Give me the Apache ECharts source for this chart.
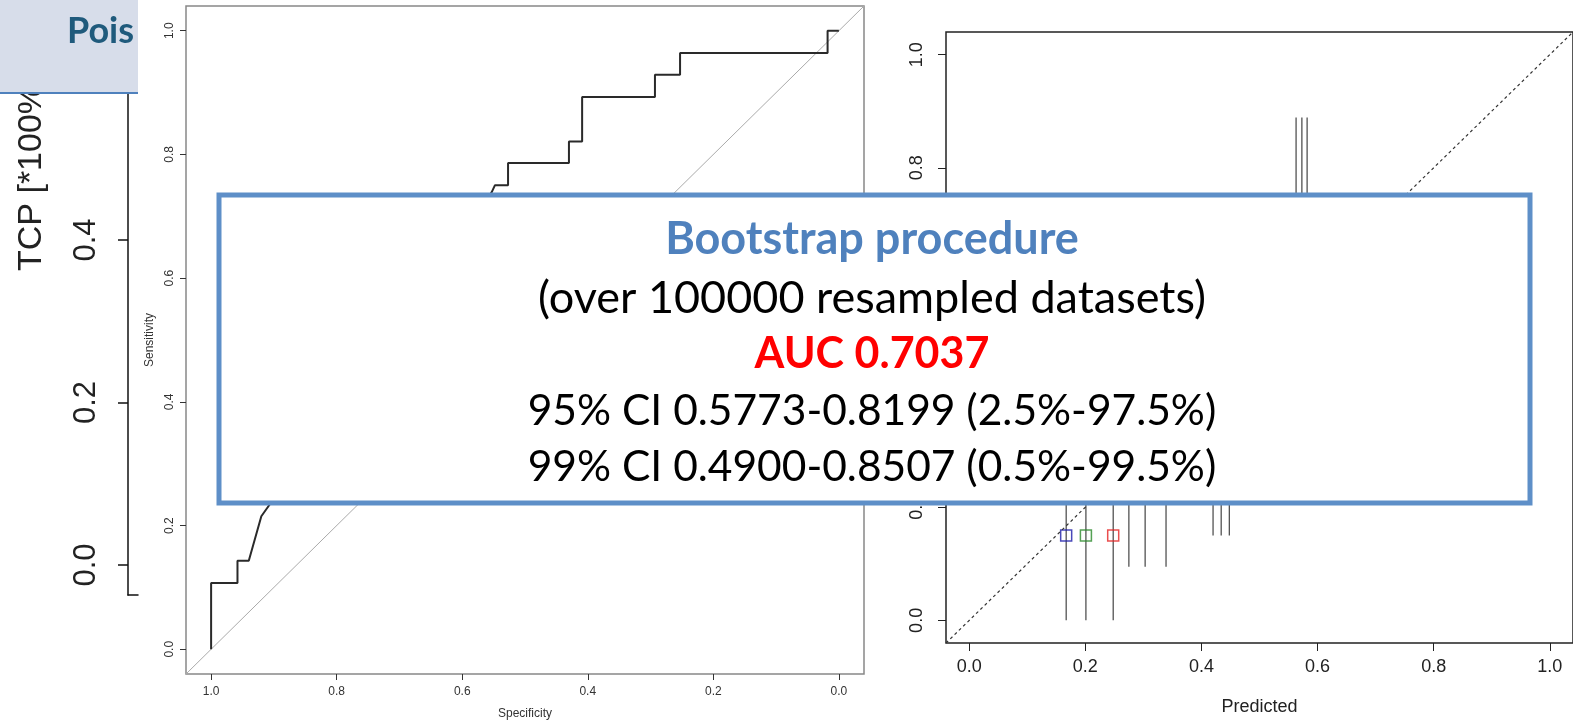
<!DOCTYPE html>
<html>
<head>
<meta charset="utf-8">
<script src="https://cdn.jsdelivr.net/npm/echarts@6/dist/echarts.min.js"></script>
<style>
  html, body { margin: 0; padding: 0; background: #fff; }
  #chart { width: 1573px; height: 725px; }
</style>
</head>
<body>
<div id="chart"></div>
<script>
// ROC curve (specificity runs 1 -> 0)
var roc_spec = [1.0, 1.0, 0.958, 0.958, 0.94, 0.92, 0.553, 0.548, 0.527, 0.527, 0.43, 0.43, 0.409, 0.409, 0.293, 0.293, 0.253, 0.253, 0.018, 0.018, 0.0];
var roc_sens = [0.0, 0.107, 0.107, 0.143, 0.143, 0.215, 0.739, 0.75, 0.75, 0.786, 0.786, 0.821, 0.821, 0.893, 0.893, 0.929, 0.929, 0.964, 0.964, 1.0, 1.0];
var roc_diag_spec = [1.04, -0.04];
var roc_diag_sens = [-0.04, 1.04];
var unit_ticks = [0, 0.2, 0.4, 0.6, 0.8, 1.0];

// calibration plot
var cal_diag = [-0.04, 1.04];
var grp_pred = [0.167, 0.201, 0.248];
var grp_obs = [0.15, 0.15, 0.15];
var grp_colors = ['#1c1ca8', '#2a8a2a', '#e52222'];
var bar_x = [0.167, 0.201, 0.248, 0.275, 0.303, 0.339, 0.42, 0.434, 0.448, 0.563, 0.573, 0.582];
var bar_lo = [0.0, 0.0, 0.0, 0.095, 0.095, 0.095, 0.15, 0.15, 0.15, 0.35, 0.35, 0.35];
var bar_hi = [0.45, 0.45, 0.45, 0.55, 0.55, 0.55, 0.6, 0.6, 0.6, 0.889, 0.889, 0.889];

// old TCP plot peeking out on the left
var tcp_ticks = [0, 0.2, 0.4];

// text of the overlay box
var box_lines = [
    'Bootstrap procedure',
    '(over 100000 resampled datasets)',
    'AUC 0.7037',
    '95% CI 0.5773-0.8199 (2.5%-97.5%)',
    '99% CI 0.4900-0.8507 (0.5%-99.5%)'
];

var chart = echarts.init(document.getElementById('chart'));

function fmt(v) { return v.toFixed(1); }

var rFont = '"Liberation Sans", Arial, sans-serif';

function valueAxis(grid, min, max, ticks, opt) {
    var a = {
        gridIndex: grid,
        type: 'value',
        min: min,
        max: max,
        axisLine: { show: false, onZero: false },
        splitLine: { show: false },
        axisTick: { show: true, customValues: ticks, length: opt.tickLen, lineStyle: { color: opt.color, width: 1 } },
        axisLabel: {
            customValues: ticks, formatter: fmt, fontSize: opt.fontSize, color: opt.color,
            fontFamily: rFont, margin: opt.margin, rotate: opt.rotate || 0
        }
    };
    if (opt.name) {
        a.name = opt.name;
        a.nameLocation = 'middle';
        a.nameGap = opt.nameGap;
        a.nameTextStyle = { fontSize: opt.fontSize, color: opt.color, fontFamily: rFont };
    }
    if (opt.inverse) a.inverse = true;
    return a;
}

var graphics = [
    // TCP axis title, half hidden by the header
    {
        type: 'text', x: 32, y: 271, rotation: Math.PI / 2, z: 5,
        style: { text: 'TCP [*100%]', font: '34px ' + rFont, fill: '#222', align: 'left', verticalAlign: 'middle' }
    },
    // slide header strip
    { type: 'rect', shape: { x: 0, y: 0, width: 138, height: 93 }, style: { fill: '#D7DDEA' }, z: 20 },
    { type: 'line', shape: { x1: 0, y1: 93, x2: 138, y2: 93 }, style: { stroke: '#4F81BD', lineWidth: 2 }, z: 21 },
    {
        type: 'text', x: 67, y: 31, z: 21,
        style: { text: 'Pois', font: 'bold 36px Lato, sans-serif', fill: '#1F5A7C', verticalAlign: 'middle' }
    },
    // the ROC picture is pasted over the header
    { type: 'rect', shape: { x: 138, y: 0, width: 20, height: 94 }, style: { fill: '#fff' }, z: 22 },
    // overlay box
    {
        type: 'rect', shape: { x: 219, y: 195, width: 1311, height: 308 },
        style: { fill: '#fff', stroke: '#5E8FC8', lineWidth: 5 }, z: 100
    }
];

var line_y = [239, 298, 354, 411, 467];
var line_style = [
    { fill: '#4F81BD', font: 'bold 45px' },
    { fill: '#000', font: '45px' },
    { fill: '#FF0000', font: 'bold 43px' },
    { fill: '#000', font: '42.5px' },
    { fill: '#000', font: '42.5px' }
];
box_lines.forEach(function (t, i) {
    graphics.push({
        type: 'text', x: 872, y: line_y[i], z: 101,
        style: {
            text: t, font: line_style[i].font + ' Lato, sans-serif', fill: line_style[i].fill,
            align: 'center', verticalAlign: 'middle'
        }
    });
});

var option = {
    animation: false,
    backgroundColor: '#fff',
    grid: [
        { left: 186, top: 6, width: 678, height: 668, show: true, borderColor: '#888', borderWidth: 1.5, backgroundColor: 'transparent' },
        { left: 946, top: 32, width: 630, height: 611, show: true, borderColor: '#222', borderWidth: 1.5, backgroundColor: 'transparent' },
        { left: 128, top: 93, width: 10, height: 502 }
    ],
    xAxis: [
        valueAxis(0, -0.04, 1.04, unit_ticks, { tickLen: 6, color: '#333', fontSize: 12, margin: 12, name: 'Specificity', nameGap: 34, inverse: true }),
        valueAxis(1, -0.04, 1.04, unit_ticks, { tickLen: 8, color: '#222', fontSize: 18, margin: 15, name: 'Predicted', nameGap: 55 }),
        {
            gridIndex: 2, type: 'value', min: 0, max: 1,
            axisLine: { show: true, onZero: false, lineStyle: { color: '#111', width: 1.5 } },
            axisTick: { show: false }, axisLabel: { show: false }, splitLine: { show: false }
        }
    ],
    yAxis: [
        valueAxis(0, -0.04, 1.04, unit_ticks, { tickLen: 6, color: '#333', fontSize: 12, margin: 10, rotate: 90, name: 'Sensitivity', nameGap: 30 }),
        valueAxis(1, -0.04, 1.04, unit_ticks, { tickLen: 8, color: '#222', fontSize: 18, margin: 20, rotate: 90 }),
        {
            gridIndex: 2, type: 'value', min: -0.0369, max: 0.581,
            axisLine: { show: true, onZero: false, lineStyle: { color: '#111', width: 1.5 } },
            axisTick: { show: true, customValues: tcp_ticks, length: 10, lineStyle: { color: '#111', width: 1.5 } },
            axisLabel: { customValues: tcp_ticks, formatter: fmt, rotate: 90, fontSize: 31, color: '#222', fontFamily: rFont, margin: 26 },
            splitLine: { show: false }
        }
    ],
    series: [
        {
            name: 'diag', type: 'line', xAxisIndex: 0, yAxisIndex: 0, symbol: 'none', silent: true,
            data: roc_diag_spec.map(function (x, i) { return [x, roc_diag_sens[i]]; }),
            lineStyle: { color: '#aaa', width: 1 }
        },
        {
            name: 'ROC', type: 'line', xAxisIndex: 0, yAxisIndex: 0, symbol: 'none',
            data: roc_spec.map(function (x, i) { return [x, roc_sens[i]]; }),
            lineStyle: { color: '#2a2a2a', width: 2 }
        },
        {
            name: 'ideal', type: 'line', xAxisIndex: 1, yAxisIndex: 1, symbol: 'none', silent: true,
            data: cal_diag.map(function (x) { return [x, x]; }),
            lineStyle: { color: '#333', width: 1.2, type: [3, 3] }
        },
        {
            name: 'ci', type: 'custom', xAxisIndex: 1, yAxisIndex: 1, clip: true,
            data: bar_x.map(function (x, i) { return [x, bar_lo[i], bar_hi[i]]; }),
            encode: { x: 0, y: [1, 2] },
            renderItem: function (params, api) {
                var p1 = api.coord([api.value(0), api.value(1)]);
                var p2 = api.coord([api.value(0), api.value(2)]);
                return {
                    type: 'line',
                    shape: { x1: p1[0], y1: p1[1], x2: p2[0], y2: p2[1] },
                    style: { stroke: '#444', lineWidth: 1.2 }
                };
            }
        },
        {
            name: 'groups', type: 'scatter', xAxisIndex: 1, yAxisIndex: 1,
            symbol: 'rect', symbolSize: 11,
            data: grp_pred.map(function (x, i) {
                return { value: [x, grp_obs[i]], itemStyle: { color: 'rgba(255,255,255,0)', borderColor: grp_colors[i], borderWidth: 1.5 } };
            })
        }
    ],
    graphic: graphics
};

chart.setOption(option);
</script>
</body>
</html>
